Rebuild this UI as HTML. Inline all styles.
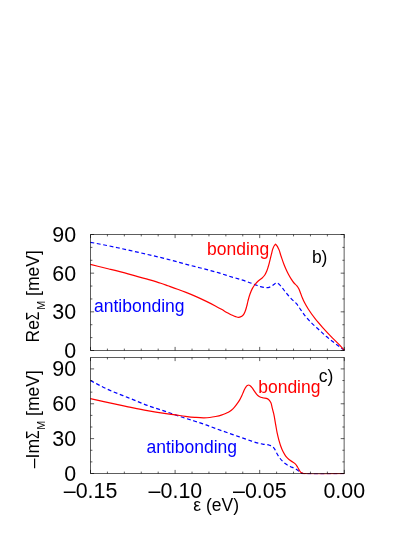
<!DOCTYPE html><html><head><meta charset="utf-8"><style>html,body{margin:0;padding:0;background:#fff}svg{display:block;will-change:transform}text{font-family:"Liberation Sans",sans-serif}</style></head><body>
<svg width="415" height="537" viewBox="0 0 415 537">
<rect width="415" height="537" fill="#fff"/>
<defs><clipPath id="c1"><rect x="90" y="234" width="255" height="117.2"/></clipPath><clipPath id="c2"><rect x="90" y="357" width="255" height="117.2"/></clipPath></defs>
<g fill="none" stroke-width="1.2" stroke-linejoin="round">
<g clip-path="url(#c1)"><path d="M90.40 242.30 C96.60 243.50 102.81 244.63 109.00 245.90 C115.35 247.20 121.67 248.60 128.00 250.00 C134.44 251.43 140.87 252.90 147.30 254.40 C154.21 256.01 161.13 257.59 168.00 259.35 C174.46 261.00 180.85 262.90 187.30 264.60 C194.19 266.42 201.12 268.05 208.00 269.90 C211.64 270.88 215.29 271.81 218.90 272.90 C221.72 273.75 224.50 274.71 227.30 275.60 C233.71 277.63 240.26 279.26 246.60 281.50 C248.34 282.11 250.08 282.74 251.80 283.40 C253.07 283.89 254.32 284.42 255.60 284.90 C257.22 285.50 258.83 286.16 260.50 286.60 C262.07 287.01 263.69 287.42 265.30 287.50 C266.56 287.56 267.90 287.63 269.10 287.30 C270.11 287.02 271.09 286.45 272.00 285.90 C273.03 285.28 273.87 284.33 274.90 283.70 C275.51 283.33 276.18 282.69 276.80 282.70 C277.49 282.71 278.18 283.51 278.80 284.00 C279.91 284.87 280.78 286.02 281.70 287.10 C282.81 288.40 283.74 289.85 284.80 291.20 C286.35 293.17 287.90 295.16 289.60 297.00 C291.15 298.68 292.84 300.23 294.50 301.80 C295.00 302.27 295.52 302.72 296.00 303.20 C297.91 305.13 299.21 307.59 300.80 309.80 C302.41 312.03 303.87 314.37 305.60 316.50 C307.48 318.82 309.58 320.98 311.70 323.10 C314.00 325.40 316.50 327.50 318.90 329.70 C321.30 331.90 323.63 334.19 326.10 336.30 C328.84 338.64 331.74 340.81 334.60 343.00 C337.80 345.45 341.07 347.80 344.30 350.20" stroke="#00f" stroke-dasharray="3.9 2.6"/><path d="M90.40 264.40 C96.60 265.93 102.81 267.44 109.00 269.00 C115.34 270.59 121.68 272.17 128.00 273.85 C134.45 275.57 140.89 277.32 147.30 279.20 C151.81 280.52 156.34 281.82 160.80 283.30 C163.21 284.10 165.60 284.96 168.00 285.80 C171.20 286.92 174.41 288.03 177.60 289.20 C180.41 290.24 183.22 291.29 186.00 292.40 C189.22 293.68 192.43 295.00 195.60 296.40 C198.86 297.83 202.09 299.35 205.30 300.90 C208.52 302.45 211.74 304.03 214.90 305.70 C217.29 306.96 219.65 308.26 222.00 309.60 C223.61 310.52 225.19 311.49 226.80 312.40 C228.39 313.29 229.95 314.23 231.60 315.00 C232.87 315.59 234.16 316.20 235.50 316.60 C236.60 316.93 237.79 317.39 238.90 317.30 C239.88 317.22 240.96 316.84 241.80 316.30 C242.53 315.83 243.18 315.11 243.70 314.40 C244.33 313.55 244.69 312.49 245.10 311.50 C245.74 309.96 246.15 308.31 246.60 306.70 C247.14 304.75 247.49 302.75 248.00 300.80 C248.63 298.41 249.24 296.01 250.10 293.70 C250.74 291.97 251.42 290.22 252.30 288.60 C252.98 287.35 253.75 286.13 254.60 285.00 C255.74 283.48 257.08 282.06 258.50 280.80 C259.56 279.86 260.85 279.16 261.90 278.20 C262.96 277.23 264.00 276.18 264.80 275.00 C265.59 273.84 266.15 272.50 266.70 271.20 C267.30 269.78 267.74 268.28 268.20 266.80 C268.72 265.12 269.15 263.41 269.60 261.70 C270.28 259.11 270.84 256.49 271.50 253.90 C271.95 252.13 272.23 250.29 272.90 248.60 C273.32 247.54 273.74 246.43 274.40 245.50 C274.73 245.04 275.13 244.63 275.50 244.20 C275.93 244.70 276.40 245.17 276.80 245.70 C277.58 246.73 278.14 247.93 278.70 249.10 C279.79 251.37 280.28 253.91 281.10 256.30 C282.04 259.04 282.93 261.81 284.00 264.50 C284.87 266.69 285.79 268.87 286.80 271.00 C287.41 272.28 288.03 273.55 288.70 274.80 C289.45 276.19 290.24 277.57 291.10 278.90 C292.00 280.31 292.91 281.73 294.00 283.00 C294.89 284.03 296.05 284.84 296.90 285.90 C297.62 286.80 298.26 287.78 298.80 288.80 C299.37 289.88 299.75 291.06 300.20 292.20 C300.90 293.95 301.48 295.76 302.20 297.50 C302.91 299.22 303.66 300.94 304.50 302.60 C305.66 304.90 307.02 307.12 308.40 309.30 C310.51 312.62 312.86 315.81 315.30 318.90 C317.58 321.79 320.04 324.55 322.50 327.30 C325.23 330.36 328.04 333.35 330.90 336.30 C333.29 338.77 335.82 341.12 338.20 343.60 C340.27 345.76 342.27 348.00 344.30 350.20" stroke="#f00"/></g>
<g clip-path="url(#c2)"><path d="M90.40 380.55 C96.03 383.43 101.56 386.55 107.30 389.20 C114.05 392.32 121.09 394.81 128.00 397.60 C134.43 400.19 140.79 402.96 147.30 405.35 C153.66 407.69 160.19 409.59 166.60 411.80 C171.24 413.40 175.84 415.15 180.50 416.70 C185.27 418.29 190.12 419.65 194.90 421.20 C198.61 422.40 202.33 423.60 206.00 424.90 C209.35 426.09 212.66 427.43 216.00 428.65 C220.02 430.11 224.07 431.49 228.10 432.90 C232.10 434.30 236.10 435.70 240.10 437.10 C243.93 438.44 247.76 439.78 251.60 441.10 C253.07 441.60 254.51 442.17 256.00 442.60 C258.19 443.24 260.45 443.67 262.70 444.10 C264.95 444.53 267.35 444.45 269.50 445.20 C270.56 445.57 271.72 445.93 272.60 446.60 C273.50 447.29 274.15 448.35 274.80 449.30 C275.79 450.74 276.32 452.48 277.20 454.00 C277.95 455.30 278.71 456.60 279.60 457.80 C280.48 459.00 281.45 460.15 282.50 461.20 C283.55 462.25 284.69 463.25 285.90 464.10 C287.24 465.04 288.73 465.78 290.20 466.50 C291.63 467.20 293.18 467.67 294.60 468.40 C295.77 469.00 296.94 469.64 298.00 470.40 C298.99 471.11 299.73 472.25 300.80 472.80 C301.48 473.15 302.25 473.39 303.00 473.55 C303.97 473.76 305.00 473.68 306.00 473.74 C318.74 474.49 331.53 473.74 344.30 473.74" stroke="#00f" stroke-dasharray="3.9 2.6"/><path d="M90.40 398.60 C96.03 399.87 101.66 401.16 107.30 402.40 C114.19 403.91 121.09 405.38 128.00 406.80 C134.43 408.12 140.84 409.50 147.30 410.65 C153.51 411.76 159.75 412.71 166.00 413.60 C169.20 414.06 172.40 414.45 175.60 414.90 C178.84 415.35 182.06 415.89 185.30 416.30 C188.49 416.70 191.69 417.09 194.90 417.35 C197.93 417.60 200.97 417.90 204.00 417.85 C205.93 417.82 207.88 417.72 209.80 417.50 C211.75 417.27 213.68 416.90 215.60 416.50 C217.51 416.10 219.44 415.69 221.30 415.10 C222.97 414.57 224.61 413.92 226.20 413.20 C227.35 412.68 228.53 412.17 229.60 411.50 C230.90 410.69 232.10 409.67 233.20 408.60 C234.55 407.29 235.67 405.72 236.80 404.20 C237.83 402.81 238.83 401.39 239.70 399.90 C240.51 398.51 241.23 397.06 241.90 395.60 C242.56 394.16 243.04 392.64 243.70 391.20 C244.26 389.98 244.72 388.68 245.50 387.60 C246.02 386.88 246.55 386.06 247.30 385.60 C247.75 385.32 248.32 384.97 248.80 385.00 C249.28 385.03 249.77 385.49 250.20 385.80 C250.88 386.29 251.45 386.96 252.00 387.60 C252.86 388.60 253.44 389.82 254.20 390.90 C254.79 391.74 255.36 392.59 256.00 393.40 C256.57 394.12 257.12 394.90 257.80 395.50 C258.64 396.25 259.66 396.88 260.70 397.30 C261.58 397.66 262.56 397.82 263.50 398.00 C264.46 398.19 265.49 398.10 266.40 398.40 C267.25 398.68 268.12 399.13 268.80 399.70 C269.67 400.44 270.28 401.57 270.80 402.60 C271.61 404.21 271.74 406.13 272.20 407.90 C272.71 409.83 273.25 411.76 273.70 413.70 C274.59 417.56 275.09 421.50 275.80 425.40 C276.26 427.97 276.65 430.55 277.20 433.10 C277.75 435.68 278.39 438.25 279.10 440.80 C279.57 442.48 280.02 444.16 280.60 445.80 C281.29 447.77 282.05 449.74 283.00 451.60 C283.85 453.26 284.74 454.95 285.90 456.40 C286.89 457.64 288.05 458.80 289.30 459.80 C290.34 460.63 291.56 461.24 292.65 462.00 C293.62 462.68 294.69 463.26 295.50 464.10 C296.31 464.93 296.88 466.01 297.50 467.00 C298.19 468.10 298.67 469.33 299.40 470.40 C299.97 471.24 300.48 472.27 301.30 472.80 C301.97 473.23 302.88 473.39 303.70 473.55 C304.45 473.69 305.23 473.68 306.00 473.74 C318.73 474.73 331.53 473.74 344.30 473.74" stroke="#f00"/></g>
</g>
<path d="M344.3 234.5 H90.5 V350.5 H344.3 M344.15 234.18 V350.82 M90.50 350.5 v-3.6 M90.50 234.5 v3.6 M107.42 350.5 v-1.9 M107.42 234.5 v1.9 M124.34 350.5 v-1.9 M124.34 234.5 v1.9 M141.26 350.5 v-1.9 M141.26 234.5 v1.9 M158.18 350.5 v-1.9 M158.18 234.5 v1.9 M175.10 350.5 v-3.6 M175.10 234.5 v3.6 M192.02 350.5 v-1.9 M192.02 234.5 v1.9 M208.94 350.5 v-1.9 M208.94 234.5 v1.9 M225.86 350.5 v-1.9 M225.86 234.5 v1.9 M242.78 350.5 v-1.9 M242.78 234.5 v1.9 M259.70 350.5 v-3.6 M259.70 234.5 v3.6 M276.62 350.5 v-1.9 M276.62 234.5 v1.9 M293.54 350.5 v-1.9 M293.54 234.5 v1.9 M310.46 350.5 v-1.9 M310.46 234.5 v1.9 M327.38 350.5 v-1.9 M327.38 234.5 v1.9 M344.30 350.5 v-3.6 M344.30 234.5 v3.6 M90.5 350.50 h3.6 M344.3 350.50 h-3.6 M90.5 337.61 h1.9 M344.3 337.61 h-1.9 M90.5 324.72 h1.9 M344.3 324.72 h-1.9 M90.5 311.83 h3.6 M344.3 311.83 h-3.6 M90.5 298.94 h1.9 M344.3 298.94 h-1.9 M90.5 286.06 h1.9 M344.3 286.06 h-1.9 M90.5 273.17 h3.6 M344.3 273.17 h-3.6 M90.5 260.28 h1.9 M344.3 260.28 h-1.9 M90.5 247.39 h1.9 M344.3 247.39 h-1.9 M90.5 234.50 h3.6 M344.3 234.50 h-3.6 M344.3 357.5 H90.5 V473.5 H344.3 M344.15 357.18 V473.82 M90.50 473.5 v-3.6 M90.50 357.5 v3.6 M107.42 473.5 v-1.9 M107.42 357.5 v1.9 M124.34 473.5 v-1.9 M124.34 357.5 v1.9 M141.26 473.5 v-1.9 M141.26 357.5 v1.9 M158.18 473.5 v-1.9 M158.18 357.5 v1.9 M175.10 473.5 v-3.6 M175.10 357.5 v3.6 M192.02 473.5 v-1.9 M192.02 357.5 v1.9 M208.94 473.5 v-1.9 M208.94 357.5 v1.9 M225.86 473.5 v-1.9 M225.86 357.5 v1.9 M242.78 473.5 v-1.9 M242.78 357.5 v1.9 M259.70 473.5 v-3.6 M259.70 357.5 v3.6 M276.62 473.5 v-1.9 M276.62 357.5 v1.9 M293.54 473.5 v-1.9 M293.54 357.5 v1.9 M310.46 473.5 v-1.9 M310.46 357.5 v1.9 M327.38 473.5 v-1.9 M327.38 357.5 v1.9 M344.30 473.5 v-3.6 M344.30 357.5 v3.6 M90.5 473.50 h3.6 M344.3 473.50 h-3.6 M90.5 461.88 h1.9 M344.3 461.88 h-1.9 M90.5 450.26 h1.9 M344.3 450.26 h-1.9 M90.5 438.63 h3.6 M344.3 438.63 h-3.6 M90.5 427.01 h1.9 M344.3 427.01 h-1.9 M90.5 415.39 h1.9 M344.3 415.39 h-1.9 M90.5 403.77 h3.6 M344.3 403.77 h-3.6 M90.5 392.14 h1.9 M344.3 392.14 h-1.9 M90.5 380.52 h1.9 M344.3 380.52 h-1.9 M90.5 368.90 h3.6 M344.3 368.90 h-3.6" fill="none" stroke="#000" stroke-width="0.64"/>
<g font-size="21" fill="#000">
<text transform="translate(76.10 358.00) scale(1.02 1.045)" text-anchor="end">0</text>
<text transform="translate(76.10 481.00) scale(1.02 1.045)" text-anchor="end">0</text>
<text transform="translate(76.10 319.33) scale(1.02 1.045)" text-anchor="end">30</text>
<text transform="translate(76.10 446.13) scale(1.02 1.045)" text-anchor="end">30</text>
<text transform="translate(76.10 280.67) scale(1.02 1.045)" text-anchor="end">60</text>
<text transform="translate(76.10 411.27) scale(1.02 1.045)" text-anchor="end">60</text>
<text transform="translate(76.10 242.00) scale(1.02 1.045)" text-anchor="end">90</text>
<text transform="translate(76.10 376.40) scale(1.02 1.045)" text-anchor="end">90</text>
<text transform="translate(90.50 498.30) scale(1.02 1.045)" text-anchor="middle">–0.15</text>
<text transform="translate(175.40 498.30) scale(1.02 1.045)" text-anchor="middle">–0.10</text>
<text transform="translate(259.80 498.30) scale(1.02 1.045)" text-anchor="middle">–0.05</text>
<text transform="translate(344.30 498.30) scale(1.02 1.045)" text-anchor="middle">0.00</text>
</g>
<g font-size="17.5">
<text x="94" y="311.5" fill="#00f">antibonding</text>
<text x="207" y="254.8" fill="#f00">bonding</text>
<text x="311.9" y="262.5" fill="#000">b)</text>
<text x="146.5" y="452.5" fill="#00f">antibonding</text>
<text x="258.2" y="392.6" fill="#f00">bonding</text>
<text x="318.8" y="381.8" fill="#000">c)</text>
<text x="193.3" y="511.1" fill="#000">ε (eV)</text>
<text transform="translate(38.9 342.5) rotate(-90)" fill="#000">Re<tspan textLength="8.45" lengthAdjust="spacingAndGlyphs">Σ</tspan><tspan font-size="10.8" dy="5.6" dx="1.9">M</tspan><tspan dy="-5.6"> [meV]</tspan></text>
<text transform="translate(38.9 468.2) rotate(-90)" fill="#000">–Im<tspan textLength="8.45" lengthAdjust="spacingAndGlyphs">Σ</tspan><tspan font-size="10.8" dy="5.6" dx="0.8">M</tspan><tspan dy="-5.6"> [meV]</tspan></text>
</g>
</svg></body></html>
